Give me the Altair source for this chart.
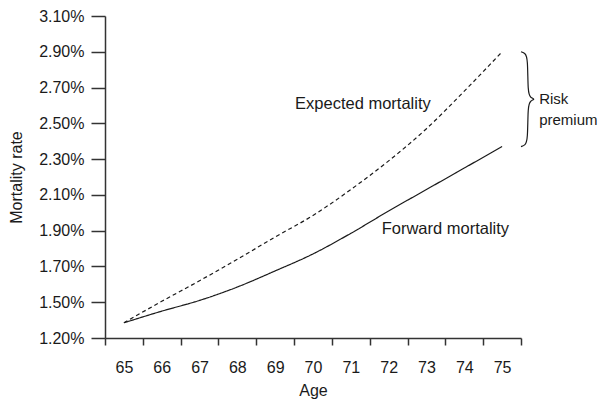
import altair as alt
import pandas as pd

# ---- data ----
AGES = [65, 66, 67, 68, 69, 70, 71, 72, 73, 74, 75]
EXPECTED = [1.385, 1.505, 1.62, 1.74, 1.865, 1.985, 2.13, 2.29, 2.47, 2.68, 2.90]
FORWARD = [1.385, 1.45, 1.51, 1.585, 1.675, 1.77, 1.885, 2.01, 2.13, 2.25, 2.37]

Y_TICKS = [1.3, 1.5, 1.7, 1.9, 2.1, 2.3, 2.5, 2.7, 2.9, 3.1]
Y_TICK_LABELS = ["1.20%", "1.50%", "1.70%", "1.90%", "2.10%", "2.30%",
                 "2.50%", "2.70%", "2.90%", "3.10%"]
X_TICK_LABELS = [str(a) for a in AGES]

ANNOT_TEXT = ["Expected mortality", "Forward mortality"]
ANNOT_AGE = [71.32, 73.5]
ANNOT_VAL = [2.608, 1.908]

FONT = "Liberation Sans"
INK = "#1a1a1a"
W, H = 416, 322
LEFT, TOP, BOTTOM = 97, 8, 62

# ---- build tables ----
lines = pd.DataFrame({
    "age": AGES * 2,
    "rate": EXPECTED + FORWARD,
    "series": ["Expected"] * len(AGES) + ["Forward"] * len(AGES),
})

x_ticks = [a - 0.5 for a in AGES] + [AGES[-1] + 0.5]

def ternary(values, labels, default):
    expr = f"'{default}'"
    for v, lab in reversed(list(zip(values, labels))):
        expr = f"(abs(datum.value - {v}) < 0.01 ? '{lab}' : {expr})"
    return expr

x_label_expr = ternary([a - 0.5 for a in AGES], X_TICK_LABELS, "")
y_label_expr = ternary(Y_TICKS, Y_TICK_LABELS, "")

x_scale = alt.Scale(domain=[x_ticks[0], x_ticks[-1]], nice=False, zero=False)
y_scale = alt.Scale(domain=[Y_TICKS[0], Y_TICKS[-1]], nice=False, zero=False)

x_axis = alt.Axis(
    values=x_ticks, tickCount=len(x_ticks), labelExpr=x_label_expr,
    labelOffset=W / len(AGES) / 2,
    labelFlush=False, labelOverlap=False, grid=False,
    tickSize=7, labelPadding=14, title="Age",
    titleY=52, titleBaseline="middle",
)
y_axis = alt.Axis(
    values=Y_TICKS, tickCount=len(Y_TICKS), labelExpr=y_label_expr, grid=False,
    tickSize=14, labelPadding=7, title="Mortality rate", titleX=-89,
    titleAlign="center", titleBaseline="middle", labelFlush=False,
    labelOverlap=False,
)

base = alt.Chart(lines)
line_layer = base.mark_line(color=INK, strokeWidth=1.2, interpolate="monotone").encode(
    x=alt.X("age:Q", scale=x_scale, axis=x_axis),
    y=alt.Y("rate:Q", scale=y_scale, axis=y_axis),
    strokeDash=alt.StrokeDash(
        "series:N",
        scale=alt.Scale(domain=["Expected", "Forward"], range=[[4, 3], [1, 0]]),
        legend=None,
    ),
    detail="series:N",
)

annot = pd.DataFrame({"text": ANNOT_TEXT, "age": ANNOT_AGE, "rate": ANNOT_VAL})
text_layer = alt.Chart(annot).mark_text(
    font=FONT, fontSize=16.5, color=INK, align="center", baseline="middle"
).encode(x=alt.X("age:Q", scale=x_scale), y=alt.Y("rate:Q", scale=y_scale), text="text:N")

# brace spanning the gap between the two end values
top, bot = EXPECTED[-1], FORWARD[-1]
mid = (top + bot) / 2
xl, xm, xt = AGES[-1] + 0.5, AGES[-1] + 0.68, AGES[-1] + 0.88
d = 0.035
bx = [xl, xm - 0.07, xm, xm, xm + 0.07, xt, xm + 0.07, xm, xm, xm - 0.07, xl]
by = [top, top - 0.008, top - d, mid + d, mid + 0.008, mid, mid - 0.008, mid - d,
      bot + d, bot + 0.008, bot]
brace = pd.DataFrame({"i": list(range(len(bx))), "age": bx, "rate": by})
brace_layer = alt.Chart(brace).mark_line(
    color=INK, strokeWidth=1.2, interpolate="basis", clip=False
).encode(x=alt.X("age:Q", scale=x_scale), y=alt.Y("rate:Q", scale=y_scale), order="i:Q")

risk = pd.DataFrame({"text": ["Risk\npremium"], "age": [AGES[-1] + 0.98], "rate": [mid]})
risk_layer = alt.Chart(risk).mark_text(
    font=FONT, fontSize=15, color=INK, align="left", baseline="middle",
    lineBreak="\n", lineHeight=21, clip=False
).encode(x=alt.X("age:Q", scale=x_scale), y=alt.Y("rate:Q", scale=y_scale), text="text:N")

chart = alt.layer(line_layer, text_layer, brace_layer, risk_layer).properties(
    width=W, height=H,
    autosize=alt.AutoSizeParams(type="none"),
    padding={"left": LEFT, "top": TOP, "right": 591 - LEFT - W, "bottom": BOTTOM},
).configure_view(stroke=None).configure_axis(
    domainColor="#333", domainWidth=1.5, tickColor="#333", tickWidth=1.5,
    labelFont=FONT, labelFontSize=16, labelColor=INK,
    titleFont=FONT, titleFontSize=16, titleFontWeight="normal", titleColor=INK,
)

chart.save("out.html", embed_options={"renderer": "svg", "actions": False})
